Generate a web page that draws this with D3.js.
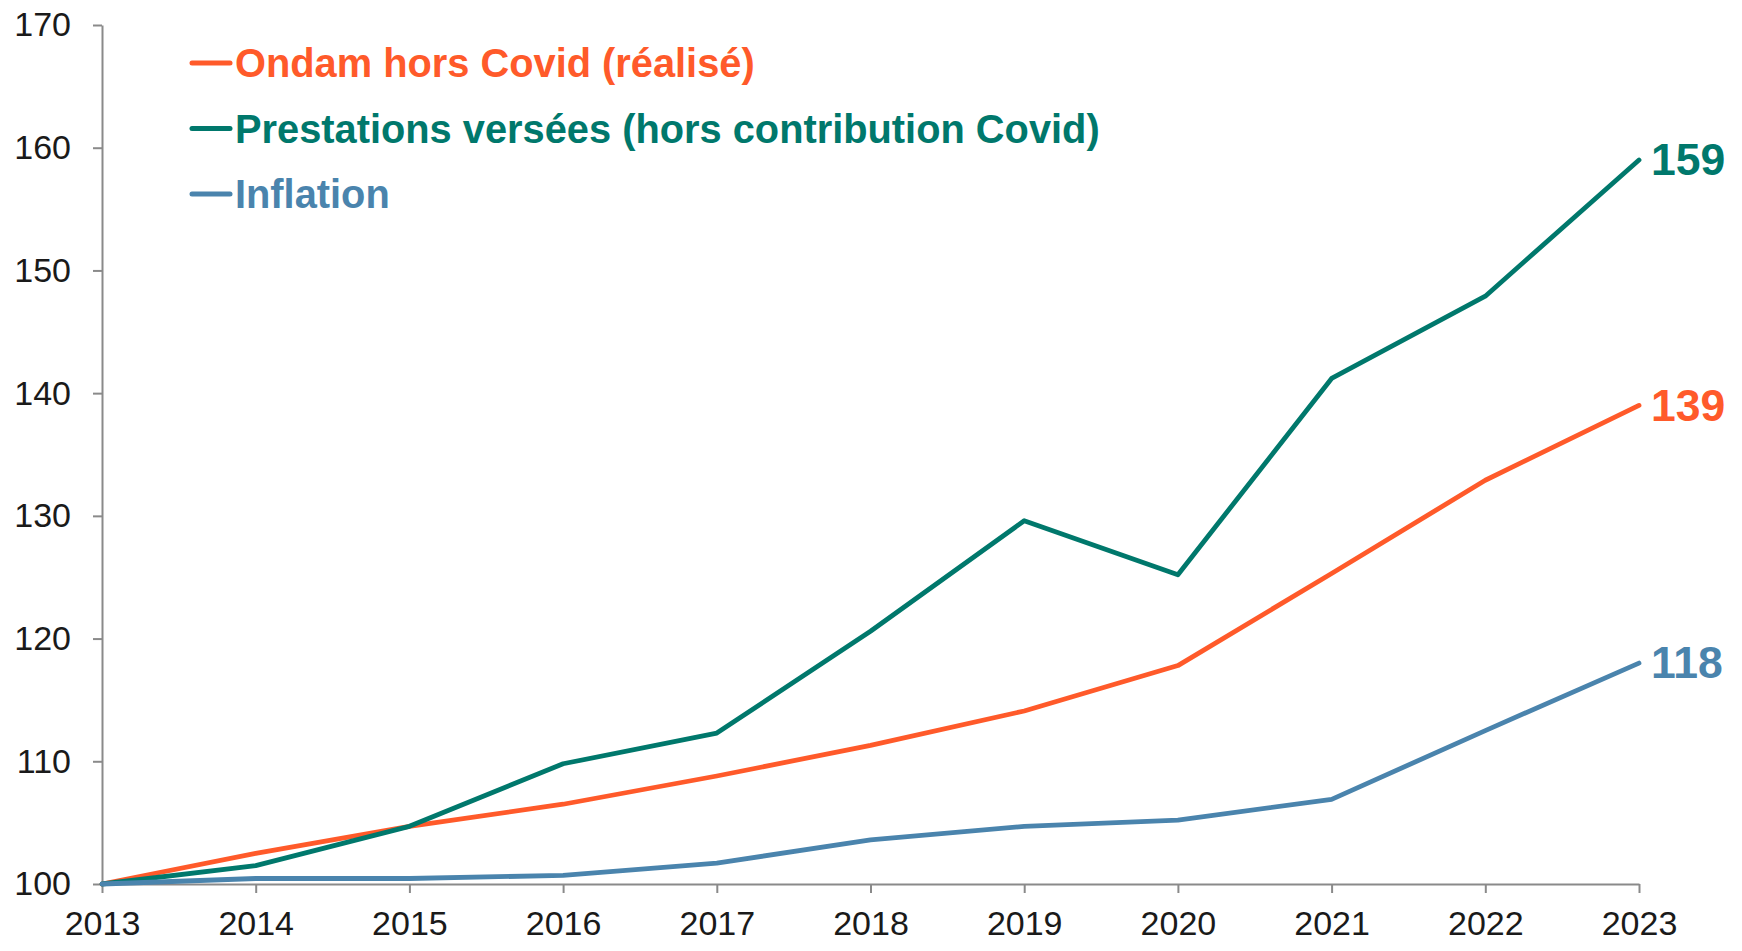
<!DOCTYPE html>
<html>
<head>
<meta charset="utf-8">
<script src="https://cdn.jsdelivr.net/npm/d3@7"></script>
<style>
  html, body { margin: 0; padding: 0; background: #ffffff; }
  svg { display: block; }
</style>
</head>
<body>
<div id="chart"></div>
<script>
// Indices base 100 en 2013
const years = [2013, 2014, 2015, 2016, 2017, 2018, 2019, 2020, 2021, 2022, 2023];
const ondam = [100, 102.5, 104.7, 106.5, 108.8, 111.3, 114.1, 117.8, 125.3, 132.9, 139];
const prestations = [100, 101.5, 104.7, 109.8, 112.3, 120.6, 129.6, 125.2, 141.2, 147.9, 159];
const inflation = [100, 100.45, 100.45, 100.7, 101.7, 103.6, 104.7, 105.2, 106.9, 112.5, 118];
const yTicks = [100, 110, 120, 130, 140, 150, 160, 170];

const seriesNames = ["Ondam hors Covid (réalisé)", "Prestations versées (hors contribution Covid)", "Inflation"];
const seriesValues = [ondam, prestations, inflation];
const seriesColors = ["#FF5A2A", "#00786C", "#4A84AD"];

const W = 1742, H = 951;
const margin = { top: 25, right: 103, bottom: 67, left: 102 };

const svg = d3.select("#chart").append("svg")
  .attr("width", W).attr("height", H);

const x = d3.scaleLinear()
  .domain([years[0], years[years.length - 1]])
  .range([margin.left, W - margin.right]);
const y = d3.scaleLinear()
  .domain([100, 170])
  .range([H - margin.bottom, margin.top]);

const axisColor = "#8a8a8a";
const tickFont = "'Liberation Sans', Arial, sans-serif";

// Axe des ordonnées
const gy = svg.append("g")
  .attr("transform", `translate(${margin.left},0)`)
  .call(d3.axisLeft(y).tickValues(yTicks).tickFormat(d3.format("d"))
    .tickSize(9).tickSizeOuter(0).tickPadding(22));

// Axe des abscisses
const gx = svg.append("g")
  .attr("transform", `translate(0,${H - margin.bottom})`)
  .call(d3.axisBottom(x).tickValues(years).tickFormat(d3.format("d"))
    .tickSize(9).tickSizeOuter(0).tickPadding(13));

[gx, gy].forEach(g => {
  g.select(".domain").attr("stroke", axisColor).attr("stroke-width", 2);
  g.selectAll(".tick line").attr("stroke", axisColor).attr("stroke-width", 2);
  g.selectAll(".tick text")
    .attr("fill", "#1a1a1a")
    .style("font-family", tickFont)
    .style("font-size", "34px");
});
gx.selectAll(".tick text").attr("dy", "0.85em");

// Courbes
const line = d3.line()
  .x((d, i) => x(years[i]))
  .y(d => y(d));

seriesValues.forEach((vals, k) => {
  svg.append("path")
    .datum(vals)
    .attr("fill", "none")
    .attr("stroke", seriesColors[k])
    .attr("stroke-width", 4.8)
    .attr("stroke-linejoin", "round")
    .attr("stroke-linecap", "round")
    .attr("d", line);
});

// Valeurs 2023 en bout de courbe
seriesValues.forEach((vals, k) => {
  const last = vals[vals.length - 1];
  svg.append("text")
    .attr("x", x(years[years.length - 1]) + 12)
    .attr("y", y(last))
    .attr("dy", "0.34em")
    .attr("fill", seriesColors[k])
    .style("font-family", tickFont)
    .style("font-weight", "bold")
    .style("font-size", "44.5px")
    .text(d3.format("d")(Math.round(last)));
});

// Légende
const legend = svg.append("g").attr("transform", "translate(190,63)");
seriesNames.forEach((name, k) => {
  const row = legend.append("g").attr("transform", `translate(0,${k * 65.5})`);
  row.append("line")
    .attr("x1", 2).attr("x2", 40)
    .attr("y1", 0).attr("y2", 0)
    .attr("stroke", seriesColors[k])
    .attr("stroke-width", 5)
    .attr("stroke-linecap", "round");
  row.append("text")
    .attr("x", 45)
    .attr("y", 0)
    .attr("dy", "0.355em")
    .attr("fill", seriesColors[k])
    .style("font-family", tickFont)
    .style("font-weight", "bold")
    .style("font-size", "39.8px")
    .text(name);
});
</script>
</body>
</html>
